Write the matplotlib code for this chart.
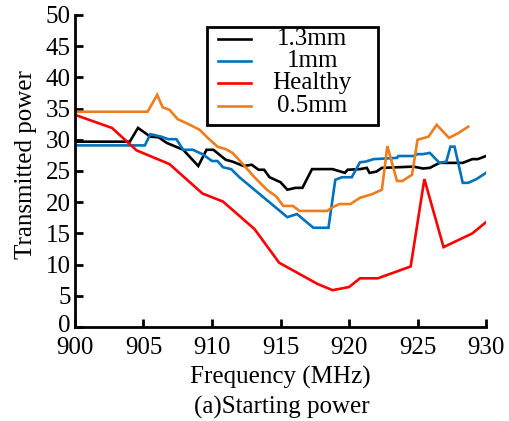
import matplotlib
matplotlib.use("Agg")
import matplotlib.pyplot as plt
from matplotlib.lines import Line2D
from matplotlib.patches import Rectangle
from matplotlib.transforms import ScaledTranslation

plt.rcParams["font.family"] = ["Liberation Serif", "DejaVu Serif"]
plt.rcParams["mathtext.fontset"] = "stix"

# Frequency (MHz) / transmitted power for each series
freq_13 = [900, 904.0, 904.6, 905.5, 906.1, 906.7, 907.9, 909.0, 909.6, 910.1, 911.0,
           911.5, 912.3, 912.9, 913.4, 913.8, 914.2, 915.0, 915.5, 916.1, 916.6, 917.3,
           918.8, 919.7, 919.9, 920.8, 921.3, 921.5, 922.0, 922.4, 924.7, 925.4, 925.9,
           926.6, 928.3, 929.0, 929.4, 930]
power_13 = [29.7, 29.7, 31.9, 30.5, 30.4, 29.5, 28.4, 25.8, 28.4, 28.4, 26.8,
            26.5, 25.8, 26.0, 25.2, 25.2, 24.0, 23.2, 22.0, 22.3, 22.3, 25.3,
            25.3, 24.7, 25.2, 25.3, 25.5, 24.7, 24.9, 25.5, 25.7, 25.4, 25.5,
            26.3, 26.3, 26.9, 26.9, 27.4]

freq_1 = [900, 905.1, 905.5, 906.3, 906.8, 907.4, 907.9, 908.6, 909.3, 910.0, 910.4,
          910.8, 911.4, 912.0, 915.5, 916.2, 917.4, 918.5, 919.0, 919.5, 920.2, 920.8,
          921.2, 921.8, 923.5, 923.6, 924.7, 925.0, 925.4, 925.9, 926.6, 927.1, 927.4,
          927.7, 928.3, 928.7, 929.3, 930]
power_1 = [29.1, 29.1, 30.9, 30.5, 30.1, 30.1, 28.4, 28.4, 27.7, 26.6, 26.6,
           25.6, 25.3, 24.0, 17.6, 18.1, 15.9, 15.9, 23.6, 24.0, 24.0, 26.4,
           26.5, 26.9, 27.1, 27.4, 27.4, 27.7, 27.7, 27.9, 26.3, 26.5, 28.9,
           28.9, 23.1, 23.1, 23.7, 24.7]

freq_h = [900, 902.7, 904.5, 906.9, 909.3, 910.8, 913.1, 914.9, 917.7, 918.8, 920.0,
          920.8, 922.1, 924.5, 925.5, 926.9, 929.0, 930]
power_h = [34.0, 31.9, 28.3, 26.1, 21.4, 20.1, 15.7, 10.3, 6.9, 5.9, 6.4,
           7.8, 7.8, 9.7, 23.7, 12.8, 15.0, 16.8]

freq_05 = [900, 905.3, 906.0, 906.4, 906.9, 907.5, 908.3, 909.1, 909.6, 910.4, 911.0,
           911.5, 912.3, 913.1, 914.0, 914.7, 915.2, 915.9, 916.4, 918.4, 918.8, 919.3,
           920.1, 920.8, 921.7, 922.4, 922.8, 923.5, 923.9, 924.6, 925.0, 925.8, 926.4,
           927.3, 928.0, 928.7]
power_05 = [34.5, 34.5, 37.2, 35.2, 34.8, 33.3, 32.5, 31.6, 30.5, 28.9, 28.5,
            27.9, 26.0, 24.0, 22.0, 20.9, 19.4, 19.4, 18.6, 18.6, 19.2, 19.7,
            19.7, 20.7, 21.3, 22.0, 29.0, 23.4, 23.4, 24.4, 30.0, 30.5, 32.4,
            30.3, 31.1, 32.1]

labels = ["1.3mm", "1mm", "Healthy", "0.5mm"]
colors = ["#000000", "#0072BD", "#FF0000", "#EE7D1E"]
series = [(freq_13, power_13), (freq_1, power_1), (freq_h, power_h), (freq_05, power_05)]

x_ticks = [900, 905, 910, 915, 920, 925, 930]
y_ticks = list(range(0, 51, 5))

fs = 18
fig = plt.figure(figsize=(5.10, 4.21), dpi=100)
ax = fig.add_axes([0.147, 0.2233, 0.806, 0.7411])

for (fx, py), c in zip(series, colors):
    ax.plot(fx, py, color=c, lw=1.9, solid_joinstyle="miter")

ax.set_xlim(900, 930)
ax.set_ylim(0, 50)
ax.set_xticks(x_ticks)
ax.set_yticks(y_ticks)
ax.tick_params(direction="in", length=6, width=2, labelsize=fs)
ax.tick_params(axis="x", pad=7)
ax.tick_params(axis="y", pad=3)
for s in ("top", "right"):
    ax.spines[s].set_visible(False)
for s in ("left", "bottom"):
    ax.spines[s].set_linewidth(2)

# lift the lowest y tick label slightly so it clears the x tick labels
fig.canvas.draw()
zero_lbl = ax.get_yticklabels()[0]
zero_lbl.set_transform(zero_lbl.get_transform()
                       + ScaledTranslation(0, 2.5 / 72, fig.dpi_scale_trans))

ax.set_ylabel("Transmitted power", fontsize=fs)
ax.yaxis.set_label_coords(-0.092, 0.52)
ax.set_xlabel("Frequency (MHz)", fontsize=fs)
ax.xaxis.set_label_coords(0.5, -0.125)
fig.text(0.553, 0.033, "(a)Starting power", fontsize=fs, ha="center", va="center")

# Legend box with centred entry labels
bx0, by0, bx1, by1 = 0.320, 0.649, 0.737, 0.961
ax.add_patch(Rectangle((bx0, by0), bx1 - bx0, by1 - by0, transform=ax.transAxes,
                       fill=True, facecolor="white", edgecolor="black", lw=2,
                       zorder=5, clip_on=False))
ys = [0.923, 0.852, 0.781, 0.707]
for lab, c, yy in zip(labels, colors, ys):
    ax.add_line(Line2D([0.347, 0.428], [yy, yy], transform=ax.transAxes,
                       color=c, lw=1.9, zorder=6))
    ax.text(0.577, yy, lab, transform=ax.transAxes, fontsize=fs,
            ha="center", va="center", zorder=6)

fig.savefig("out.png", dpi=100)
